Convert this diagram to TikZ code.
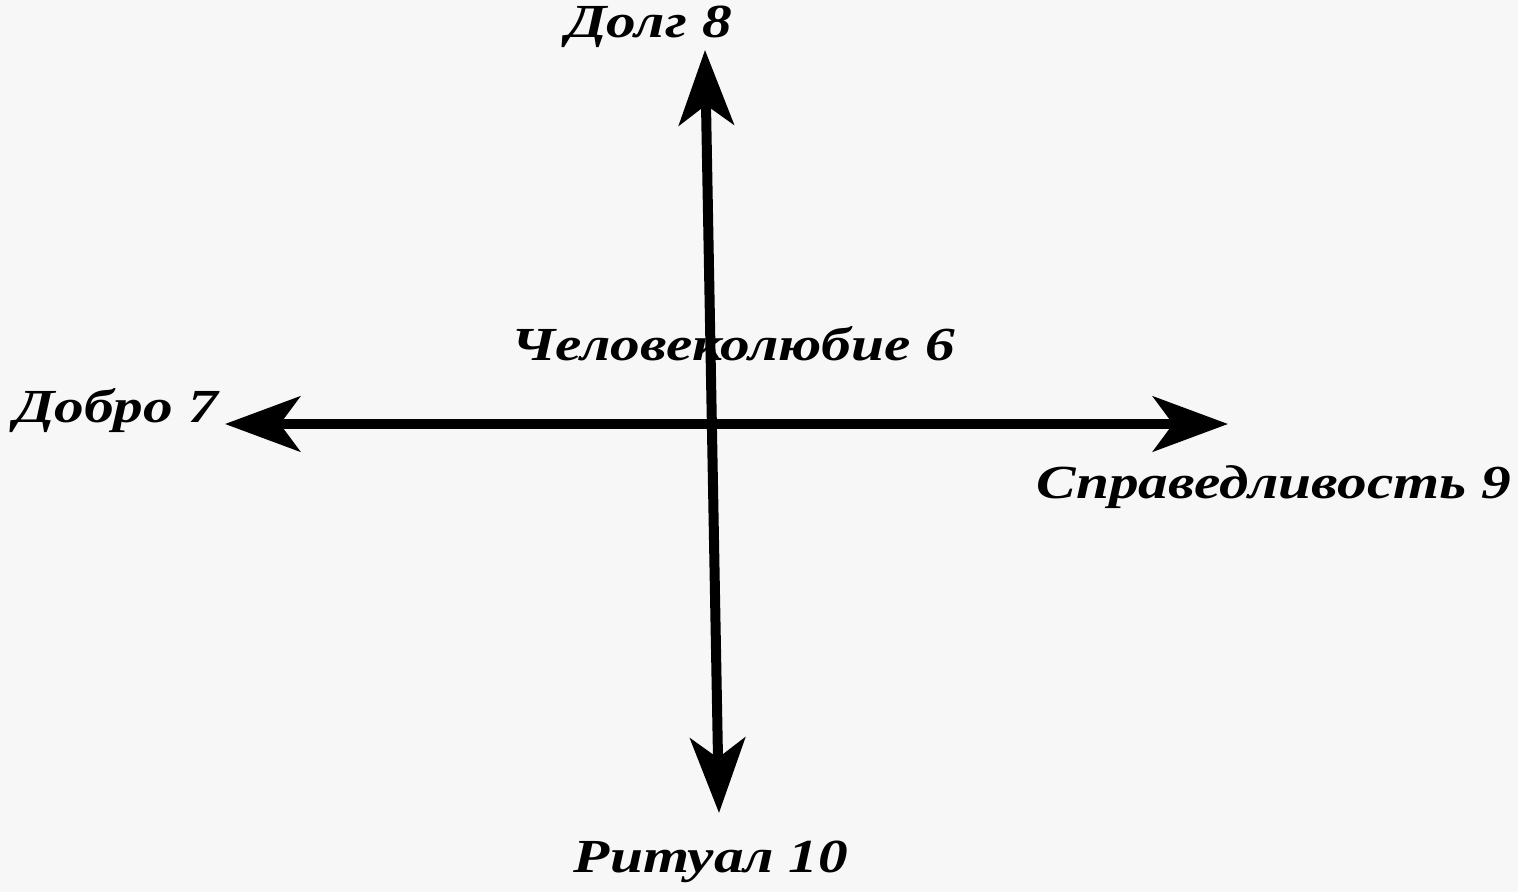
\documentclass[tikz,border=0pt]{standalone}
\usepackage{fontspec}
\setmainfont[FakeStretch=1.25]{Liberation Serif}
\usepackage{tikz}
\usetikzlibrary{arrows.meta}

\begin{document}
\begin{tikzpicture}[
    x=0.02cm, y=-0.02cm,
    lbl/.style={font=\fontsize{27}{30}\selectfont\bfseries\itshape, inner sep=0pt, anchor=base},
    axis/.style={{Stealth[length=1.5cm, width=1.1cm, inset=0.4cm]}-{Stealth[length=1.5cm, width=1.1cm, inset=0.4cm]}, line width=0.2cm}
]
\useasboundingbox[fill=black!3] (0,0) rectangle (1518,892);

% ends of the two axes
\coordinate (top) at (705,50);
\coordinate (bottom) at (719,813);
\coordinate (left) at (225,424);
\coordinate (right) at (1228,424);

\node[lbl] (center) at (733,360) {Человеколюбие 6};
\node[lbl] (duty) at (649,38) {Долг 8};
\node[lbl] (good) at (116,422) {Добро 7};
\node[lbl] (justice) at (1274,498) {Справедливость 9};
\node[lbl] (ritual) at (711,872) {Ритуал 10};

\draw[axis] (left) -- (right);
\draw[axis] (bottom) -- (top);
\end{tikzpicture}
\end{document}
